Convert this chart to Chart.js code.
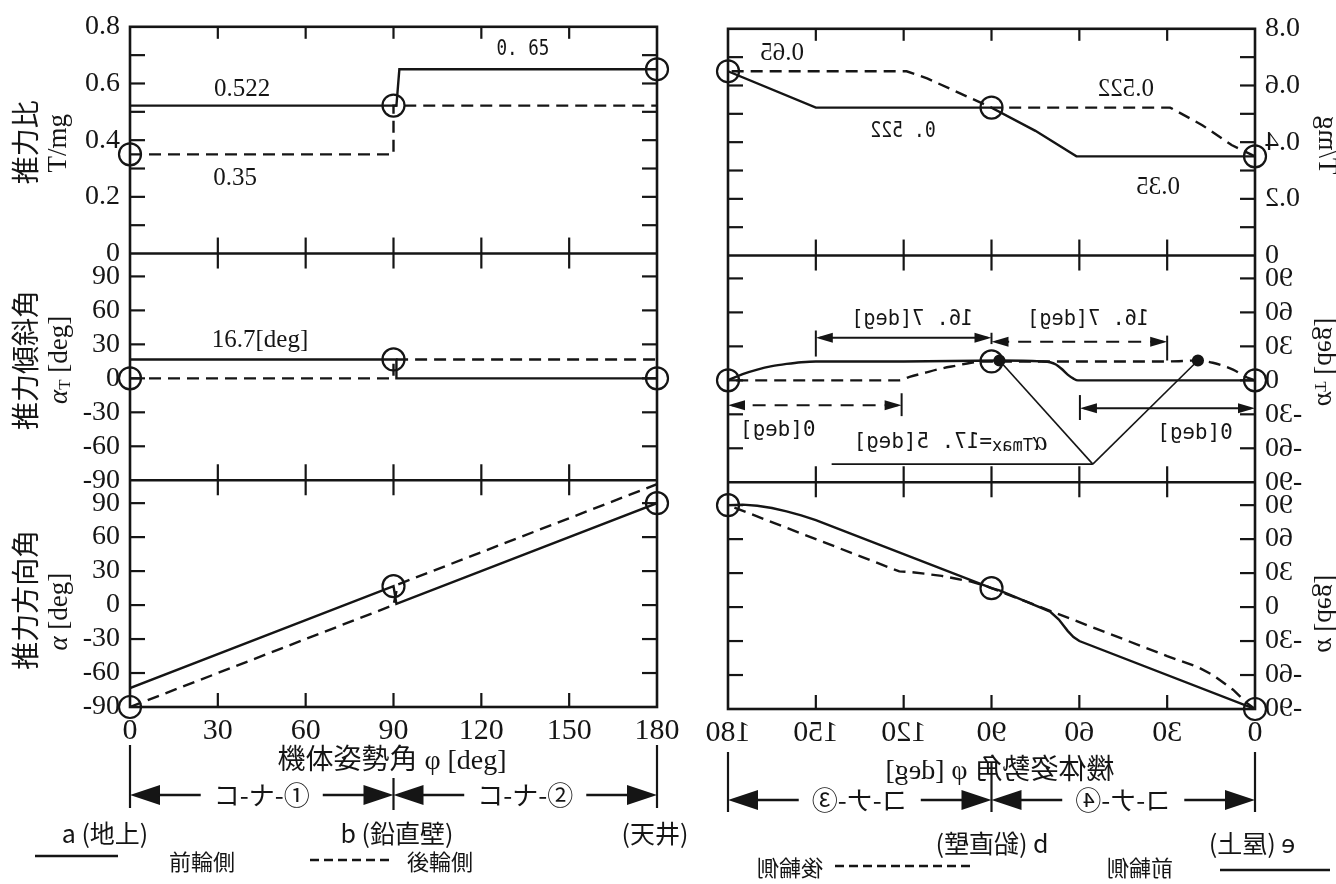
<!DOCTYPE html>
<html><head><meta charset="utf-8">
<script src="https://cdn.jsdelivr.net/npm/chart.js@4/dist/chart.umd.min.js"></script>
<style>
html,body{margin:0;padding:0;background:#fff;overflow:hidden;width:1336px;height:884px;}
#wrapL{position:absolute;left:0;top:0;width:690px;height:884px;}
#wrapR{position:absolute;left:695px;top:2px;width:690px;height:884px;transform:scaleX(-1);}
canvas{display:block;}
</style></head><body>
<div id="wrapL"><canvas id="cL" width="690" height="884" style="width:690px;height:884px"></canvas></div>
<div id="wrapR"><canvas id="cR" width="690" height="884" style="width:690px;height:884px"></canvas></div>
<script>
const INK = '#151515';
const SERIF = "'Liberation Serif','Noto Sans CJK JP',serif";
const MONO = "'DejaVu Sans Mono','Liberation Mono',monospace";
const GOTHIC = "'Noto Sans CJK JP','Noto Sans',sans-serif";

// ---- ticks ----
const PHI_TICKS = [0, 30, 60, 90, 120, 150, 180];
const RATIO_TICKS = [0, 0.2, 0.4, 0.6, 0.8];
const RATIO_MINOR = [0.1, 0.2, 0.3, 0.4, 0.5, 0.6, 0.7];
const ANGLE_TICKS = [-90, -60, -30, 0, 30, 60, 90];
const ANGLE_MINOR = [-60, -30, 0, 30, 60, 90];

// ---- left column (phi 0 -> 180) ----
const L_ratioFront_phi = [0, 91, 92, 180];
const L_ratioFront_val = [0.522, 0.522, 0.65, 0.65];
const L_ratioRear_phi = [0, 90, 90, 180];
const L_ratioRear_val = [0.35, 0.35, 0.522, 0.522];
const L_ratioMark_phi = [0, 90, 180];
const L_ratioMark_val = [0.35, 0.522, 0.65];

const L_tiltFront_phi = [0, 91, 91, 180];
const L_tiltFront_val = [16.7, 16.7, 0, 0];
const L_tiltRear_phi = [0, 90, 90, 180];
const L_tiltRear_val = [0, 0, 16.7, 16.7];
const L_tiltMark_phi = [0, 90, 180];
const L_tiltMark_val = [0, 16.7, 0];

const L_dirFront_phi = [0, 90, 91, 180];
const L_dirFront_val = [-73.3, 16.7, 1, 90];
const L_dirRear_phi = [0, 90, 91.5, 180];
const L_dirRear_val = [-90, 0, 18.2, 106.7];
const L_dirMark_phi = [0, 90, 180];
const L_dirMark_val = [-90, 16.7, 90];

// ---- right column (phi 180 -> 0, drawn mirrored) ----
const R_ratioFront_phi = [0, 61, 75, 90, 150, 180];
const R_ratioFront_val = [0.35, 0.35, 0.44, 0.522, 0.522, 0.65];
const R_ratioRear_phi = [0, 3, 8, 18, 29, 90, 112, 119, 180];
const R_ratioRear_val = [0.35, 0.365, 0.39, 0.46, 0.522, 0.522, 0.625, 0.65, 0.65];
const R_ratioMark_phi = [0, 90, 180];
const R_ratioMark_val = [0.35, 0.522, 0.65];

const R_tiltFront_phi = [0, 60.5, 62, 64, 66, 68, 70, 73, 87.3, 120, 150, 155, 160, 165, 170, 175, 180];
const R_tiltFront_val = [0, 0, 1.5, 5, 10, 14, 16, 16.7, 17.5, 16.7, 16.7, 16, 14.5, 12.5, 9.5, 5.5, 0];
const R_tiltRear_phi = [0, 2.7, 7.5, 14.4, 19.5, 30, 60, 92, 97, 102, 107, 113, 118, 121.5, 150, 180];
const R_tiltRear_val = [0, 2.5, 9.5, 15.5, 17.5, 16.7, 16.7, 16.7, 15.5, 13, 10.5, 6.5, 3, 0, 0, 0];
const R_tiltMark_phi = [0, 90, 180];
const R_tiltMark_val = [0, 16.7, 0];
const R_tiltMax_phi = [19.5, 87.3];
const R_tiltMax_val = [17.5, 17.5];

const R_dirFront_phi = [0, 60, 62, 64, 67, 70, 87.3, 90, 120, 150, 155, 160, 165, 170, 175, 180];
const R_dirFront_val = [-90, -30, -26.5, -21, -11, -4, 14.8, 16.7, 46.7, 76.7, 81, 84.5, 87.5, 89.5, 90.5, 90];
const R_dirRear_phi = [0, 2.7, 7.5, 14.4, 19.5, 30, 60, 90, 92, 97, 102, 107, 113, 118, 121.5, 150, 180];
const R_dirRear_val = [-90, -84.8, -73, -60, -53, -43.3, -13.3, 16.7, 18.7, 22.5, 25, 27.5, 29.5, 31, 31.5, 60, 90];
const R_dirMark_phi = [0, 90, 180];
const R_dirMark_val = [-90, 16.7, 90];

// ---- helpers ----
const pts = (xs, ys) => xs.map((x, i) => ({x: x, y: ys[i]}));
function lineDS(xs, ys, axis, dashed, smooth) {
  return {data: pts(xs, ys), yAxisID: axis, borderColor: INK, borderWidth: 2.4,
    borderDash: dashed ? [12, 7] : [], pointRadius: 0, pointHoverRadius: 0, fill: false,
    tension: 0, cubicInterpolationMode: smooth ? 'monotone' : 'default'};
}
function markDS(xs, ys, axis, r, filled) {
  return {data: pts(xs, ys), yAxisID: axis, showLine: false, pointRadius: r, pointHoverRadius: r,
    pointBorderWidth: 2.2, pointBackgroundColor: filled ? INK : 'rgba(0,0,0,0)', pointBorderColor: INK, clip: false};
}
function seg(ctx, x1, y1, x2, y2) { ctx.beginPath(); ctx.moveTo(x1, y1); ctx.lineTo(x2, y2); ctx.stroke(); }
function head(ctx, tx, ty, dir, len, hw) {
  ctx.beginPath(); ctx.moveTo(tx, ty); ctx.lineTo(tx - dir * len, ty - hw); ctx.lineTo(tx - dir * len, ty + hw); ctx.closePath(); ctx.fill();
}
function runsAt(ctx, runs, x, y, align, rot) {
  ctx.save(); ctx.translate(x, y); if (rot) ctx.rotate(rot);
  ctx.textAlign = 'left'; ctx.textBaseline = 'middle';
  let total = 0;
  const ws = runs.map(r => { ctx.font = r.f; const w = ctx.measureText(r.t).width * (r.sx || 1); total += w; return w; });
  let cx = align === 'left' ? 0 : (align === 'right' ? -total : -total / 2);
  runs.forEach((r, i) => { ctx.save(); ctx.font = r.f; ctx.translate(cx, r.dy || 0); ctx.scale(r.sx || 1, 1); ctx.fillText(r.t, 0, 0); ctx.restore(); cx += ws[i]; });
  ctx.restore();
}

function makeDeco(cfg) {
  return {
    id: 'deco',
    afterDatasetsDraw(chart) {
      const ctx = chart.ctx, ca = chart.chartArea, xs = chart.scales.x;
      const P = ['yA', 'yB', 'yC'].map(k => chart.scales[k]);
      ctx.save();
      ctx.strokeStyle = INK; ctx.fillStyle = INK; ctx.lineCap = 'butt';
      ctx.lineWidth = 2.6;
      ctx.strokeRect(ca.left, ca.top, ca.right - ca.left, ca.bottom - ca.top);
      seg(ctx, ca.left, P[1].top, ca.right, P[1].top);
      seg(ctx, ca.left, P[2].top, ca.right, P[2].top);
      ctx.lineWidth = 2.2;
      const minor = [RATIO_MINOR, ANGLE_MINOR, ANGLE_MINOR];
      P.forEach((s, i) => minor[i].forEach(v => {
        const y = s.getPixelForValue(v);
        seg(ctx, ca.left, y, ca.left + 15, y); seg(ctx, ca.right - 15, y, ca.right, y);
      }));
      PHI_TICKS.slice(1, -1).forEach(v => {
        const x = xs.getPixelForValue(v);
        seg(ctx, x, ca.top, x, ca.top + 12);
        seg(ctx, x, P[1].top - 16, x, P[1].top + 15);
        seg(ctx, x, P[2].top - 16, x, P[2].top + 15);
        seg(ctx, x, ca.bottom - 14, x, ca.bottom);
      });
      // dimension arrows
      (cfg.dims || []).forEach(d => {
        const s = chart.scales[d.axis];
        const xa = xs.getPixelForValue(Math.min(d.p1, d.p2)), xb = xs.getPixelForValue(Math.max(d.p1, d.p2));
        const y = s.getPixelForValue(d.y);
        ctx.lineWidth = 2;
        ctx.setLineDash(d.dash ? [13, 9] : []);
        seg(ctx, xa + 4, y, xb - 4, y);
        ctx.setLineDash([]);
        head(ctx, xa, y, -1, 17, 5); head(ctx, xb, y, 1, 17, 5);
        d.ext.forEach(e => { const ex = xs.getPixelForValue(e.p); seg(ctx, ex, s.getPixelForValue(e.y1), ex, s.getPixelForValue(e.y2)); });
      });
      // V leader lines
      (cfg.vee || []).forEach(v => {
        const s = chart.scales[v.axis];
        const bx = xs.getPixelForValue(v.bottom[0]), by = s.getPixelForValue(v.bottom[1]);
        ctx.lineWidth = 1.6;
        v.tips.forEach(t => seg(ctx, xs.getPixelForValue(t[0]), s.getPixelForValue(t[1]), bx, by));
        seg(ctx, bx, by, xs.getPixelForValue(v.lineTo), by);
      });
      ctx.restore();
    },
    afterDraw(chart) {
      const ctx = chart.ctx, ca = chart.chartArea, xs = chart.scales.x;
      ctx.save();
      ctx.fillStyle = INK; ctx.strokeStyle = INK;
      // panel texts
      (cfg.texts || []).forEach(t => {
        const s = chart.scales[t.axis];
        runsAt(ctx, t.runs, xs.getPixelForValue(t.x), s.getPixelForValue(t.y), t.align || 'center', 0);
      });
      // axis titles (rotated)
      (cfg.titles || []).forEach(t => {
        const s = chart.scales[t.axis];
        runsAt(ctx, t.runs, t.x, (s.top + s.bottom) / 2 + t.dy, 'center', -Math.PI / 2);
      });
      // below the axis
      const b = cfg.bottom;
      runsAt(ctx, b.title.runs, b.title.x, b.title.y, 'center', 0);
      ctx.lineWidth = 2.2;
      b.vlines.forEach(v => { const x = xs.getPixelForValue(v.phi); seg(ctx, x, v.y1, x, v.y2); });
      b.arrows.forEach(a => {
        const xa = xs.getPixelForValue(a.p1), xb = xs.getPixelForValue(a.p2), mid = (xa + xb) / 2;
        ctx.font = a.f; const w = ctx.measureText(a.t).width;
        head(ctx, xa, a.y, -1, 30, 10); head(ctx, xb, a.y, 1, 30, 10);
        ctx.lineWidth = 2.6;
        seg(ctx, xa + 28, a.y, mid - w / 2 - 13, a.y);
        seg(ctx, mid + w / 2 + 13, a.y, xb - 28, a.y);
        runsAt(ctx, [{t: a.t, f: a.f}], mid, a.y, 'center', 0);
      });
      b.labels.forEach(l => runsAt(ctx, [{t: l.t, f: l.f}], l.x, l.y, 'center', 0));
      b.legend.forEach(g => {
        if (g.kind === 'text') { runsAt(ctx, [{t: g.t, f: g.f}], g.x, g.y, 'center', 0); return; }
        ctx.lineWidth = 2.4; ctx.setLineDash(g.kind === 'dash' ? [9, 5] : []);
        seg(ctx, g.x1, g.y, g.x2, g.y); ctx.setLineDash([]);
      });
      ctx.restore();
    }
  };
}

function buildChart(id, datasets, cfg) {
  const yScale = (weight, min, max, ticks) => ({
    type: 'linear', position: 'left', stack: 'col', stackWeight: 1, weight: weight, min: min, max: max,
    afterFit: s => { s.width = 130; },
    afterBuildTicks: s => { s.ticks = ticks.map(v => ({value: v})); },
    grid: {display: false, drawTicks: false}, border: {display: false},
    ticks: {color: INK, font: {family: SERIF, size: 28}, padding: 10, autoSkip: false, callback: v => String(v)}
  });
  return new Chart(document.getElementById(id), {
    type: 'line',
    data: {datasets: datasets},
    options: {
      responsive: false, animation: false, devicePixelRatio: 1, events: [],
      layout: {padding: {left: 0, right: 33, top: 21, bottom: 127}},
      plugins: {legend: {display: false}, tooltip: {enabled: false}},
      scales: {
        x: {type: 'linear', position: 'bottom', min: 0, max: 180,
          afterFit: s => { s.height = 50; },
          afterBuildTicks: s => { s.ticks = PHI_TICKS.map(v => ({value: v})); },
          grid: {display: false, drawTicks: false}, border: {display: false},
          ticks: {color: INK, font: {family: SERIF, size: 30}, padding: 6, maxRotation: 0, autoSkip: false, callback: v => String(v)}},
        yA: yScale(3, 0, 0.8, RATIO_TICKS),
        yB: yScale(2, -90, 110.2, ANGLE_TICKS),
        yC: yScale(1, -90, 110.2, ANGLE_TICKS)
      }
    },
    plugins: [makeDeco(cfg)]
  });
}

const TITLES = [
  {axis: 'yA', x: 25, dy: 2, runs: [{t: '推力比', f: '28px ' + GOTHIC}]},
  {axis: 'yA', x: 59, dy: 3, runs: [{t: 'T/mg', f: '27px ' + SERIF}]},
  {axis: 'yB', x: 25, dy: -7, runs: [{t: '推力傾斜角', f: '28px ' + GOTHIC}]},
  {axis: 'yB', x: 60, dy: -7, runs: [{t: 'α', f: 'italic 27px ' + SERIF}, {t: 'T', f: '17px ' + SERIF, dy: 6}, {t: ' [deg]', f: '27px ' + SERIF}]},
  {axis: 'yC', x: 25, dy: 6, runs: [{t: '推力方向角', f: '28px ' + GOTHIC}]},
  {axis: 'yC', x: 60, dy: 18, runs: [{t: 'α', f: 'italic 27px ' + SERIF}, {t: ' [deg]', f: '27px ' + SERIF}]}
];
const serifRun = t => [{t: t, f: '25px ' + SERIF}];
const monoRun = (t, sx) => [{t: t, f: '22px ' + MONO, sx: sx}];

const cfgL = {
  titles: TITLES,
  texts: [
    {axis: 'yA', x: 38.3, y: 0.58, runs: serifRun('0.522')},
    {axis: 'yA', x: 35.9, y: 0.265, runs: serifRun('0.35')},
    {axis: 'yA', x: 134.2, y: 0.72, runs: monoRun('0. 65', 0.8)},
    {axis: 'yB', x: 44.4, y: 33.3, runs: serifRun('16.7[deg]')}
  ],
  bottom: {
    title: {x: 392, y: 762, runs: [{t: '機体姿勢角 φ [deg]', f: '28px ' + SERIF}]},
    vlines: [{phi: 0, y1: 745, y2: 808}, {phi: 90, y1: 778, y2: 810}, {phi: 180, y1: 745, y2: 808}],
    arrows: [{p1: 0, p2: 90, y: 795, t: 'コ-ナ-①', f: '26px ' + GOTHIC}, {p1: 90, p2: 180, y: 795, t: 'コ-ナ-②', f: '26px ' + GOTHIC}],
    labels: [{t: 'a (地上)', x: 105, y: 833, f: '25px ' + GOTHIC}, {t: 'b (鉛直壁)', x: 397, y: 833, f: '25px ' + GOTHIC}, {t: '(天井)', x: 655, y: 833, f: '25px ' + GOTHIC}],
    legend: [{kind: 'solid', x1: 35, x2: 118, y: 856}, {kind: 'text', t: '前輪側', x: 202, y: 862, f: '22px ' + GOTHIC},
             {kind: 'dash', x1: 310, x2: 392, y: 860}, {kind: 'text', t: '後輪側', x: 440, y: 862, f: '22px ' + GOTHIC}]
  }
};

const cfgR = {
  titles: TITLES,
  texts: [
    {axis: 'yA', x: 161.5, y: 0.713, runs: serifRun('0.65')},
    {axis: 'yA', x: 120.2, y: 0.44, runs: monoRun('0. 522', 0.82)},
    {axis: 'yA', x: 44.1, y: 0.587, runs: serifRun('0.522')},
    {axis: 'yA', x: 33.1, y: 0.241, runs: serifRun('0.35')},
    {axis: 'yB', x: 117.1, y: 53.5, runs: monoRun('16. 7[deg]', 0.92)},
    {axis: 'yB', x: 57, y: 53.5, runs: monoRun('16. 7[deg]', 0.92)},
    {axis: 'yB', x: 163, y: -44, runs: monoRun('0[deg]', 0.95)},
    {axis: 'yB', x: 20.5, y: -47, runs: monoRun('0[deg]', 0.95)},
    {axis: 'yB', x: 71, y: -55, align: 'left', runs: [{t: 'α', f: 'italic 27px ' + SERIF}, {t: 'Tmax', f: '17px ' + MONO, dy: 4}, {t: '=17. 5[deg]', f: '22px ' + MONO, sx: 0.95}]}
  ],
  dims: [
    {axis: 'yB', p1: 90, p2: 150, y: 37.7, dash: false, ext: [{p: 150, y1: 44, y2: 21}, {p: 90, y1: 42, y2: 32}]},
    {axis: 'yB', p1: 30, p2: 90, y: 34, dash: true, ext: [{p: 30, y1: 39.5, y2: 17.5}]},
    {axis: 'yB', p1: 120.7, p2: 180, y: -22, dash: true, ext: [{p: 120.7, y1: -11.4, y2: -31.6}]},
    {axis: 'yB', p1: 0, p2: 59.8, y: -24.6, dash: false, ext: [{p: 59.8, y1: -13, y2: -35}]}
  ],
  vee: [{axis: 'yB', tips: [[87.3, 17.5], [19.5, 17.5]], bottom: [55.4, -74], lineTo: 144.6}],
  bottom: {
    title: {x: 385, y: 770, runs: [{t: '機体姿勢角 φ [deg]', f: '28px ' + SERIF}]},
    vlines: [{phi: 0, y1: 750, y2: 810}, {phi: 90, y1: 760, y2: 810}, {phi: 180, y1: 750, y2: 810}],
    arrows: [{p1: 0, p2: 90, y: 798, t: 'コ-ナ-④', f: '26px ' + GOTHIC}, {p1: 90, p2: 180, y: 798, t: 'コ-ナ-③', f: '26px ' + GOTHIC}],
    labels: [{t: 'e (屋上)', x: 133, y: 841, f: '25px ' + GOTHIC}, {t: 'b (鉛直壁)', x: 393, y: 841, f: '25px ' + GOTHIC}],
    legend: [{kind: 'solid', x1: 55, x2: 165, y: 868}, {kind: 'text', t: '前輪側', x: 245, y: 866, f: '22px ' + GOTHIC},
             {kind: 'dash', x1: 415, x2: 555, y: 864}, {kind: 'text', t: '後輪側', x: 595, y: 866, f: '22px ' + GOTHIC}]
  }
};

buildChart('cL', [
  lineDS(L_ratioFront_phi, L_ratioFront_val, 'yA', false),
  lineDS(L_ratioRear_phi, L_ratioRear_val, 'yA', true),
  markDS(L_ratioMark_phi, L_ratioMark_val, 'yA', 11, false),
  lineDS(L_tiltFront_phi, L_tiltFront_val, 'yB', false),
  lineDS(L_tiltRear_phi, L_tiltRear_val, 'yB', true),
  markDS(L_tiltMark_phi, L_tiltMark_val, 'yB', 11, false),
  lineDS(L_dirFront_phi, L_dirFront_val, 'yC', false),
  lineDS(L_dirRear_phi, L_dirRear_val, 'yC', true),
  markDS(L_dirMark_phi, L_dirMark_val, 'yC', 11, false)
], cfgL);

buildChart('cR', [
  lineDS(R_ratioFront_phi, R_ratioFront_val, 'yA', false),
  lineDS(R_ratioRear_phi, R_ratioRear_val, 'yA', true),
  markDS(R_ratioMark_phi, R_ratioMark_val, 'yA', 11, false),
  lineDS(R_tiltFront_phi, R_tiltFront_val, 'yB', false, true),
  lineDS(R_tiltRear_phi, R_tiltRear_val, 'yB', true, true),
  markDS(R_tiltMark_phi, R_tiltMark_val, 'yB', 11, false),
  markDS(R_tiltMax_phi, R_tiltMax_val, 'yB', 5, true),
  lineDS(R_dirFront_phi, R_dirFront_val, 'yC', false),
  lineDS(R_dirRear_phi, R_dirRear_val, 'yC', true),
  markDS(R_dirMark_phi, R_dirMark_val, 'yC', 11, false)
], cfgR);
</script></body></html>
